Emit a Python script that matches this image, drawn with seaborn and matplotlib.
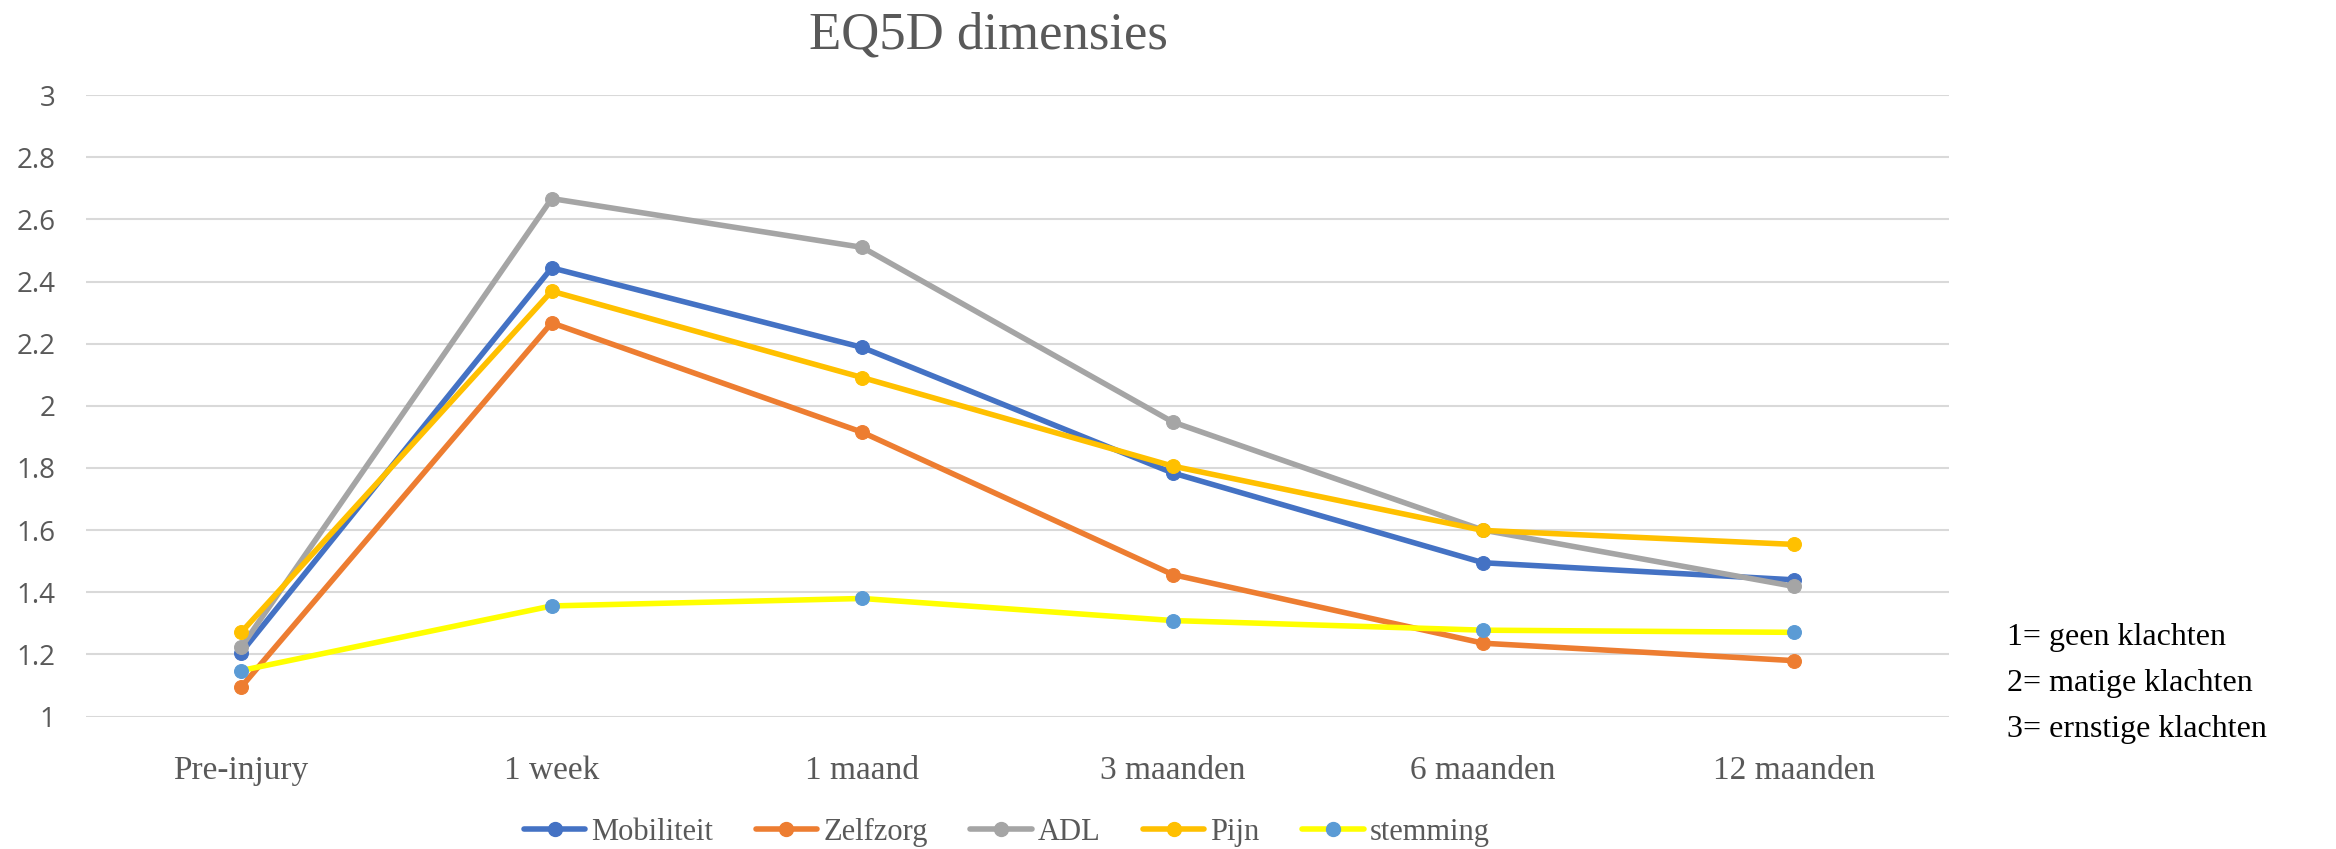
import numpy as np
import pandas as pd
import matplotlib
matplotlib.use("Agg")
import matplotlib.pyplot as plt
from matplotlib.lines import Line2D
import seaborn as sns

# data
momenten = ["Pre-injury", "1 week", "1 maand", "3 maanden", "6 maanden", "12 maanden"]
mobiliteit = [1.206, 2.444, 2.188, 1.784, 1.495, 1.440]
zelfzorg = [1.095, 2.267, 1.915, 1.457, 1.236, 1.180]
adl = [1.223, 2.667, 2.510, 1.948, 1.600, 1.419]
pijn = [1.271, 2.369, 2.091, 1.806, 1.599, 1.554]
stemming = [1.148, 1.356, 1.380, 1.309, 1.278, 1.271]

reeksen = ["Mobiliteit", "Zelfzorg", "ADL", "Pijn", "stemming"]
lijn_kleur = ["#4472C4", "#ED7D31", "#A5A5A5", "#FFC000", "#FFFF00"]
punt_kleur = ["#4472C4", "#ED7D31", "#A5A5A5", "#FFC000", "#5B9BD5"]

df = pd.DataFrame({
    "moment": np.tile(np.arange(len(momenten)), len(reeksen)),
    "score": mobiliteit + zelfzorg + adl + pijn + stemming,
    "dimensie": np.repeat(reeksen, len(momenten)),
})

sns.set_style("white")
serif = ["Liberation Serif", "DejaVu Serif"]
grijs = "#595959"

fig = plt.figure(figsize=(23.36, 8.49), dpi=100)
ax = fig.add_axes([0.0368, 0.156, 0.7975, 0.732])

handles = []
for naam, lc, pc in zip(reeksen, lijn_kleur, punt_kleur):
    sub = df[df["dimensie"] == naam]
    sns.lineplot(data=sub, x="moment", y="score", ax=ax, color=lc, linewidth=4,
                 marker="o", markersize=10, markerfacecolor=pc, markeredgecolor=pc,
                 legend=False, zorder=3)
    handles.append(Line2D([0], [0], color=lc, linewidth=4, marker="o", markersize=10,
                          markerfacecolor=pc, markeredgecolor=pc))

ax.set_xlim(-0.5, len(momenten) - 0.5)
ax.set_ylim(1, 3)
ax.set_yticks(np.arange(1, 3.01, 0.2))
ax.set_yticklabels(["1", "1.2", "1.4", "1.6", "1.8", "2", "2.2", "2.4", "2.6", "2.8", "3"],
                   fontsize=20, color=grijs, family=["Open Sans", "DejaVu Sans"])
ax.set_xticks(np.arange(len(momenten)))
ax.set_xticklabels(momenten, fontsize=24, color=grijs, family=serif)
ax.tick_params(axis="x", length=0, pad=28)
ax.tick_params(axis="y", length=0, pad=22)
ax.yaxis.grid(True, color="#D9D9D9", linewidth=1.5)
ax.xaxis.grid(False)
for s in ax.spines.values():
    s.set_visible(False)
ax.set_xlabel("")
ax.set_ylabel("")

fig.legend(handles, reeksen, loc="center", bbox_to_anchor=(0.431, 0.02), ncol=5,
           frameon=False, prop={"family": serif, "size": 22}, labelcolor=grijs,
           handlelength=2.0, handletextpad=0.2, columnspacing=1.4)

fig.text(0.423, 0.958, "EQ5D dimensies", ha="center", va="center",
         fontsize=38, color=grijs, family=serif)

for i, t in enumerate(["1= geen klachten", "2= matige klachten", "3= ernstige klachten"]):
    fig.text(0.859, 0.249 - i * 0.054, t, ha="left", va="center",
             fontsize=23, color="black", family=serif)

fig.savefig("out.png", dpi=100)
